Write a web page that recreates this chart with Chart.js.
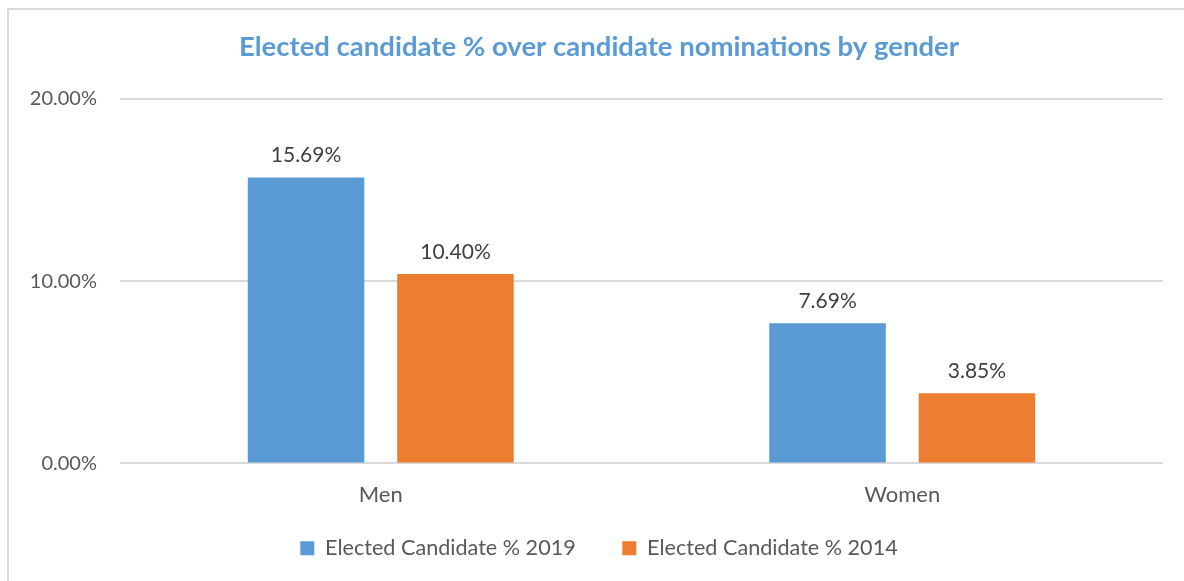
<!DOCTYPE html>
<html>
<head>
<meta charset="utf-8">
<script src="https://cdn.jsdelivr.net/npm/chart.js@4.4.1/dist/chart.umd.min.js"></script>
<style>
    html, body { margin: 0; padding: 0; background: #fff; overflow: hidden; }
    #wrap { position: relative; width: 1184px; height: 581px; }
    #frame { position: absolute; left: 7px; top: 8px; width: 1200px; height: 600px; border: 2px solid #d9d9d9; box-sizing: border-box; }
    canvas { position: absolute; left: 0; top: 0; }
</style>
</head>
<body>
<div id="wrap">
    <div id="frame"></div>
    <canvas id="genderChart" width="1184" height="581"></canvas>
</div>
<script>
// Datos
const categorias = ['Men', 'Women'];
const electos2019 = [15.69, 7.69];
const electos2014 = [10.40, 3.85];
const ticksY = [0, 10, 20];

const azul = '#5B9BD5';
const naranja = '#ED7D31';
const fuente = 'Lato, "Open Sans", sans-serif';

// Etiquetas de valor encima de cada barra
const etiquetasPlugin = {
    id: 'etiquetas',
    afterDatasetsDraw(chart) {
        const ctx = chart.ctx;
        ctx.save();
        ctx.font = '21px ' + fuente;
        ctx.fillStyle = '#404040';
        ctx.textAlign = 'center';
        ctx.textBaseline = 'middle';
        chart.data.datasets.forEach((ds, i) => {
            chart.getDatasetMeta(i).data.forEach((bar, j) => {
                ctx.fillText(ds.data[j].toFixed(2) + '%', bar.x, bar.y - 22);
            });
        });
        ctx.restore();
    }
};

const ctx = document.getElementById('genderChart').getContext('2d');
new Chart(ctx, {
    type: 'bar',
    data: {
        labels: categorias,
        datasets: [{
            label: 'Elected Candidate % 2019',
            data: electos2019,
            backgroundColor: azul,
            borderWidth: 0
        }, {
            label: 'Elected Candidate % 2014',
            data: electos2014,
            backgroundColor: naranja,
            borderWidth: 0
        }]
    },
    options: {
        responsive: false,
        animation: false,
        categoryPercentage: 0.573,
        barPercentage: 0.78,
        layout: {
            padding: { left: 14, right: 0, top: 0, bottom: 12 }
        },
        plugins: {
            title: {
                display: true,
                text: 'Elected candidate % over candidate nominations by gender',
                color: azul,
                font: { family: fuente, size: 27.5, weight: 'bold', lineHeight: 1.2 },
                padding: { top: 31, bottom: 35 }
            },
            legend: {
                position: 'bottom',
                labels: {
                    boxWidth: 14,
                    boxHeight: 14,
                    padding: 30,
                    color: '#595959',
                    font: { family: fuente, size: 21.6 },
                    // un poco más de espacio entre las dos entradas
                    generateLabels: function(chart) {
                        const items = Chart.defaults.plugins.legend.labels.generateLabels(chart);
                        items[0].text += '   ';
                        return items;
                    }
                }
            },
            tooltip: { enabled: false }
        },
        scales: {
            x: {
                grid: { display: false },
                border: { display: false },
                ticks: {
                    color: '#595959',
                    font: { family: fuente, size: 22 },
                    padding: 10,
                    maxRotation: 0,
                    autoSkip: false
                },
                afterFit: function(scale) { scale.height = 44; }
            },
            y: {
                min: 0,
                max: 20,
                afterBuildTicks: function(scale) {
                    scale.ticks = ticksY.map(v => ({ value: v }));
                },
                grid: { color: '#d9d9d9', lineWidth: 2, drawTicks: false },
                border: { display: false },
                ticks: {
                    color: '#595959',
                    font: { family: fuente, size: 20 },
                    padding: 23,
                    callback: function(value) { return value.toFixed(2) + '%'; }
                },
                afterFit: function(scale) { scale.width = 106; }
            },
            // eje vacío a la derecha, solo deja el margen
            yDer: {
                position: 'right',
                grid: { display: false },
                border: { display: false },
                ticks: { display: false },
                afterFit: function(scale) { scale.width = 21; }
            }
        }
    },
    plugins: [etiquetasPlugin]
});
</script>
</body>
</html>
